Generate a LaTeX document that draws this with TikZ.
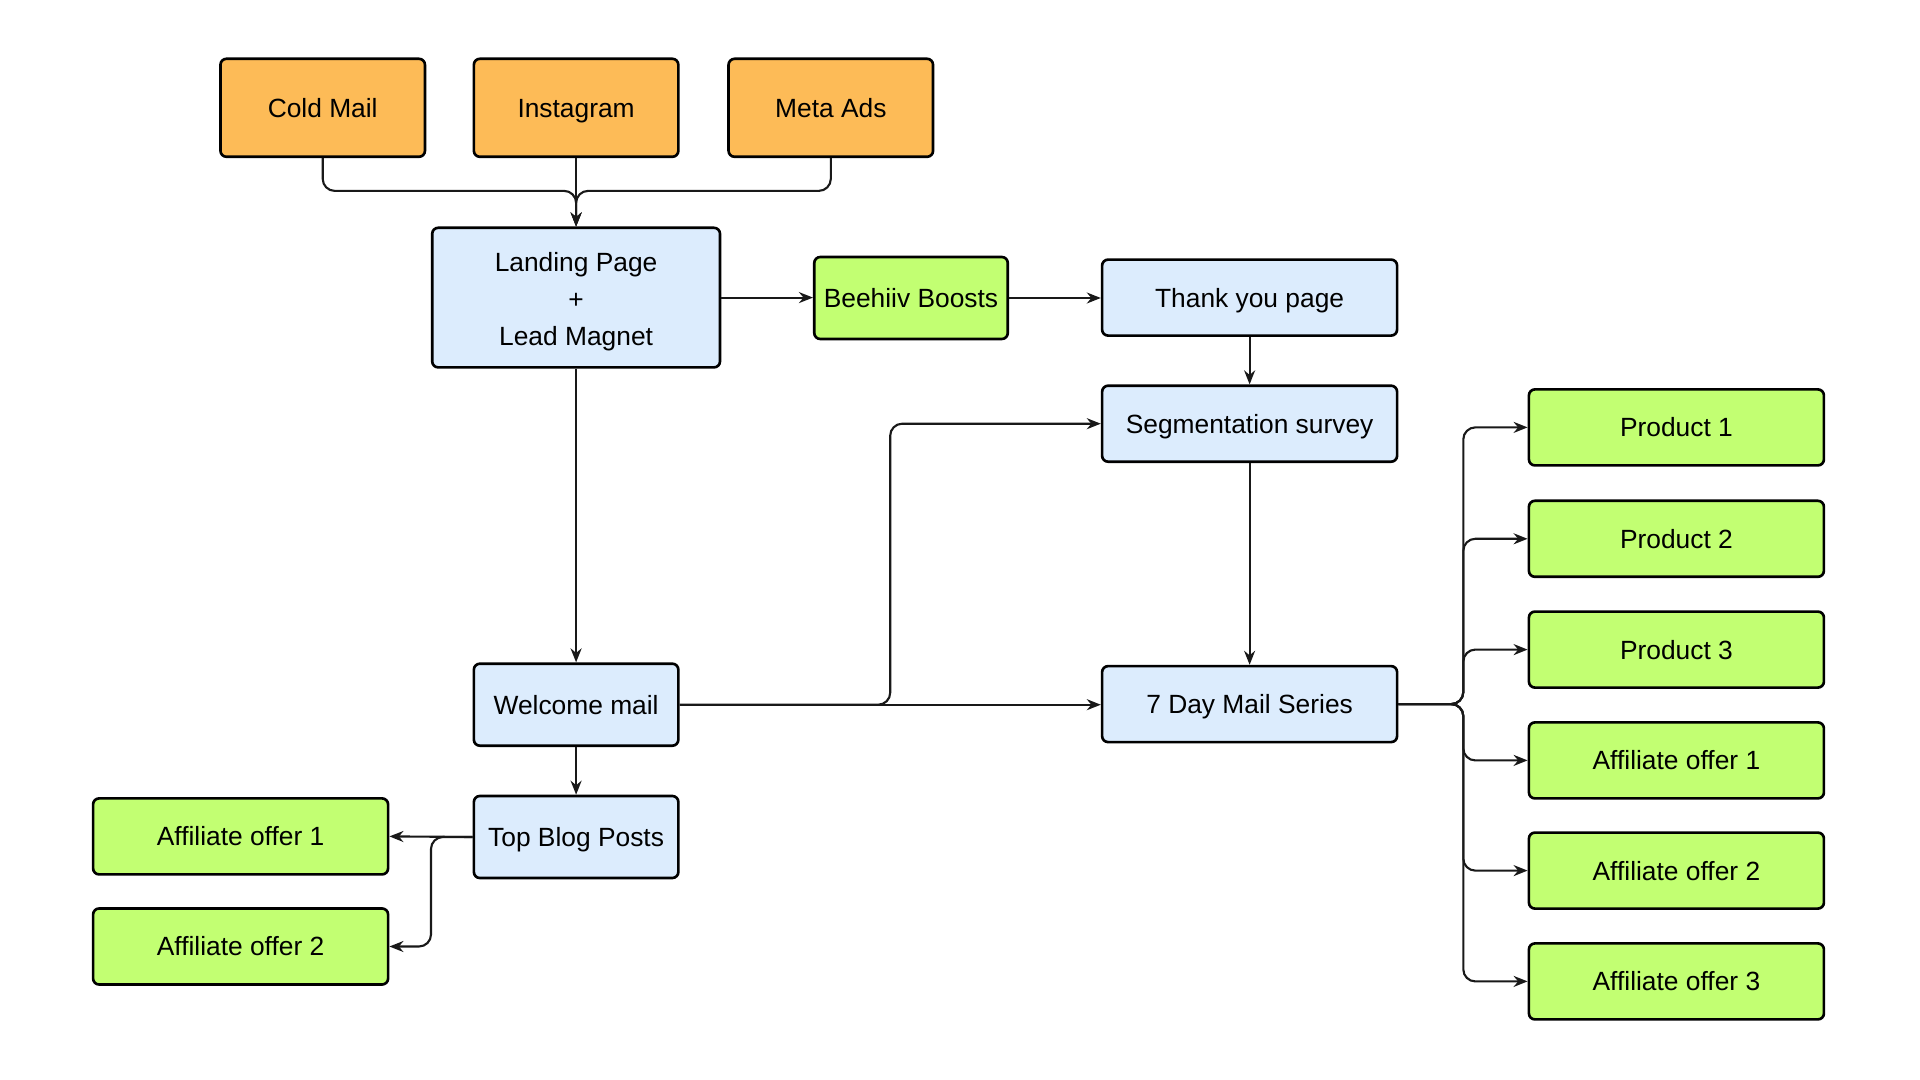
\documentclass[tikz,border=0pt]{standalone}
\usepackage{fontspec}
\setmainfont{Liberation Sans}
\usetikzlibrary{arrows.meta,calc}
\definecolor{srcor}{RGB}{253,187,87}
\definecolor{pgblue}{RGB}{220,236,253}
\definecolor{offgreen}{RGB}{194,255,114}
\tikzset{
  box/.style={draw=black, line width=0.75pt, rounded corners=0.6mm, align=center,
    inner sep=0pt, font=\fontsize{7.5}{10.5}\selectfont},
  oneline/.style={text height=6.4pt, text depth=1.0pt},
  srcbox/.style={box, oneline, fill=srcor, minimum width=2.045cm, minimum height=0.98cm},
  bluebox/.style={box, fill=pgblue},
  greenbox/.style={box, fill=offgreen},
  widebox/.style={oneline, minimum width=2.95cm, minimum height=0.76cm},
  smallbox/.style={oneline, minimum width=2.045cm, minimum height=0.82cm},
  conn/.style={draw=black!90, line width=0.6pt, rounded corners=1.2mm,
    -{Stealth[length=1.4mm,width=1.1mm]}}
}
\begin{document}
\begin{tikzpicture}
\useasboundingbox[fill=white] (0,0) rectangle (19.2,-10.8);
% sources
\node[srcbox] (cold) at (3.227,-1.078) {Cold Mail};
\node[srcbox] (insta) at (5.761,-1.078) {Instagram};
\node[srcbox] (meta) at (8.308,-1.078) {Meta Ads};
% main column
\node[bluebox, minimum width=2.878cm, minimum height=1.396cm] (landing) at (5.761,-2.976) {\rule{0pt}{7.6pt}Landing Page\\+\\Lead Magnet};
\node[greenbox, oneline, minimum width=1.935cm, minimum height=0.82cm] (beehiiv) at (9.11,-2.98) {Beehiiv Boosts};
\node[bluebox, widebox] (thanks) at (12.496,-2.976) {Thank you page};
\node[bluebox, widebox] (seg) at (12.496,-4.237) {Segmentation survey};
\node[bluebox, smallbox] (welcome) at (5.761,-7.047) {Welcome mail};
\node[bluebox, widebox] (seven) at (12.496,-7.041) {7 Day Mail Series};
\node[bluebox, smallbox] (blog) at (5.761,-8.37) {Top Blog Posts};
% left offers
\node[greenbox, widebox] (laff1) at (2.406,-8.364) {Affiliate offer 1};
\node[greenbox, widebox] (laff2) at (2.406,-9.465) {Affiliate offer 2};
% right offers
\node[greenbox, widebox] (p1) at (16.764,-4.274) {Product 1};
\node[greenbox, widebox] (p2) at (16.764,-5.388) {Product 2};
\node[greenbox, widebox] (p3) at (16.764,-6.496) {Product 3};
\node[greenbox, widebox] (raff1) at (16.764,-7.604) {Affiliate offer 1};
\node[greenbox, widebox] (raff2) at (16.764,-8.706) {Affiliate offer 2};
\node[greenbox, widebox] (raff3) at (16.764,-9.814) {Affiliate offer 3};
% connectors: sources to landing
\coordinate (merge) at ($(landing.north)+(0,0.356)$);
\draw[conn] (cold.south) |- (merge) -- (landing.north);
\draw[conn] (meta.south) |- (merge) -- (landing.north);
\draw[conn] (insta.south) -- (landing.north);
% top row
\draw[conn] (landing.east) -- (landing.east -| beehiiv.west);
\draw[conn] (beehiiv.east) -- (beehiiv.east -| thanks.west);
\draw[conn] (thanks.south) -- (seg.north);
\draw[conn] (seg.south) -- (seven.north);
% main column
\draw[conn] (landing.south) -- (welcome.north);
\draw[conn] (welcome.south) -- (blog.north);
\draw[conn] (welcome.east) -- (seven.west |- welcome.east);
\coordinate (wroute) at (8.902,-7.047);
\draw[conn] (welcome.east) -- (wroute) |- (seg.west);
% blog to left offers
\coordinate (lbr) at (4.31,-8.37);
\draw[conn] (blog.west) -- (laff1.east);
\draw[conn] (blog.west) -- (lbr) |- (laff2.east);
% seven to right offers
\coordinate (rbr) at (14.633,-7.041);
\foreach \t in {p1,p2,p3,raff1,raff2,raff3}{
  \draw[conn] (seven.east) -- (rbr) |- (\t.west);
}
\end{tikzpicture}
\end{document}
